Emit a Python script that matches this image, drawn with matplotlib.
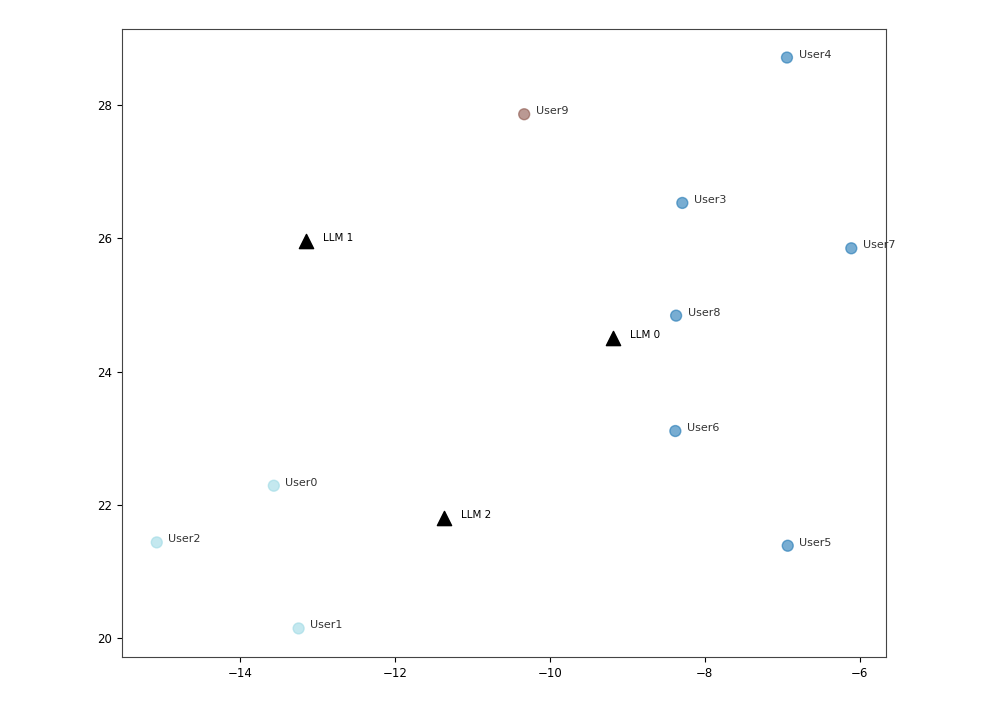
import numpy as np
import matplotlib
matplotlib.use("Agg")
import matplotlib.pyplot as plt

# user embeddings (2d) and cluster ids
users = ["User0", "User1", "User2", "User3", "User4",
         "User5", "User6", "User7", "User8", "User9"]
user_x = [-13.56, -13.24, -15.07, -8.29, -6.94, -6.93, -8.38, -6.11, -8.37, -10.33]
user_y = [22.29, 20.15, 21.44, 26.53, 28.71, 21.39, 23.11, 25.85, 24.84, 27.86]
user_cluster = [2, 2, 2, 0, 0, 0, 0, 0, 0, 1]

llms = ["LLM 0", "LLM 1", "LLM 2"]
llm_x = [-9.19, -13.15, -11.37]
llm_y = [24.51, 25.96, 21.81]

fig = plt.figure(figsize=(9.97, 7.04), dpi=100)
ax = fig.add_axes([0.1224, 0.0668, 0.7663, 0.892])

ax.scatter(user_x, user_y, c=user_cluster, cmap="tab20", s=62, alpha=0.6)
for name, x, y in zip(users, user_x, user_y):
    ax.text(x + 0.15, y + 0.0, name, fontsize=8, color="#333333")

ax.scatter(llm_x, llm_y, marker="^", c="black", s=105)
for name, x, y in zip(llms, llm_x, llm_y):
    ax.text(x + 0.22, y + 0.0, name, fontsize=7.5, color="black")

ax.tick_params(labelsize=8.5)
for sp in ax.spines.values():
    sp.set_color("#444444")

fig.savefig("out.png", dpi=100)
